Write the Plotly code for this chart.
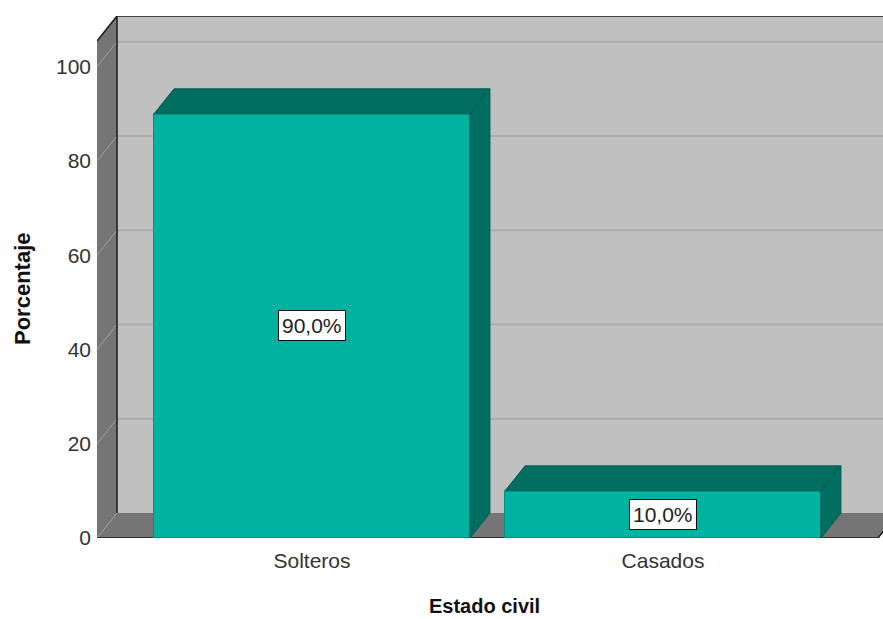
import plotly.graph_objects as go

# Data
categories = ["Solteros", "Casados"]
percentages = [90.0, 10.0]
y_ticks = [0, 20, 40, 60, 80, 100]

# Figure geometry (pixels)
W, H = 883, 619
M_L, M_R, M_T, M_B = 97, 0, 16, 81
PLOT_W = W - M_L - M_R
PLOT_H = H - M_T - M_B

# Axis ranges
X_FRONT = (-0.6125, 1.6125)       # front edge of the floor
PX_PER_X = 351.0
X_RANGE = [X_FRONT[0], X_FRONT[0] + PLOT_W / PX_PER_X]
PX_PER_Y = 4.713
DEPTH_PX = (20, 25)
DX = DEPTH_PX[0] / PX_PER_X
DY = DEPTH_PX[1] / PX_PER_Y
Y_TOP_FRONT = 105.46
Y_RANGE = [0, PLOT_H / PX_PER_Y]

BAR_W = 0.9
FACE = "#00B3A0"
SHADE = "#006F61"
EDGE = "#00594E"
WALL_BACK = "#C0C0C0"
WALL_SIDE = "#757575"

FONT = "Liberation Sans, Arial, sans-serif"

shapes = []
xl, xr = X_FRONT
# back wall
shapes.append(dict(type="rect", xref="x", yref="y", layer="below",
                   x0=xl + DX, x1=xr + DX + 0.2, y0=DY, y1=Y_TOP_FRONT + DY,
                   fillcolor=WALL_BACK, line=dict(width=0)))
# left wall
shapes.append(dict(type="path", xref="x", yref="y", layer="below",
                   path=f"M {xl},0 L {xl},{Y_TOP_FRONT} L {xl + DX},{Y_TOP_FRONT + DY} L {xl + DX},{DY} Z",
                   fillcolor=WALL_SIDE, line=dict(width=0)))
# floor
shapes.append(dict(type="path", xref="x", yref="y", layer="below",
                   path=f"M {xl},0 L {xr},0 L {xr + DX},{DY} L {xl + DX},{DY} Z",
                   fillcolor=WALL_SIDE, line=dict(width=0)))
# gridlines on the back wall and the left wall
for t in y_ticks:
    if t > 0:
        shapes.append(dict(type="line", xref="x", yref="y", layer="below",
                           x0=xl + DX, x1=xr + DX + 0.2, y0=t + DY, y1=t + DY,
                           line=dict(color="#ABABAB", width=2)))
    shapes.append(dict(type="line", xref="x", yref="y", layer="below",
                       x0=xl, x1=xl + DX, y0=t, y1=t + DY,
                       line=dict(color="#A0A0A0", width=1)))
# frame edges
edge = dict(color="#1A1A1A", width=1.5)
shapes += [
    dict(type="line", xref="x", yref="y", layer="below",
         x0=xl + DX, x1=xl + DX, y0=DY, y1=Y_TOP_FRONT + DY, line=edge),
    dict(type="line", xref="x", yref="y", layer="below",
         x0=xl + DX, x1=xr + DX + 0.2, y0=Y_TOP_FRONT + DY, y1=Y_TOP_FRONT + DY, line=edge),
    dict(type="line", xref="x", yref="y", layer="below",
         x0=xl, x1=xl + DX, y0=Y_TOP_FRONT, y1=Y_TOP_FRONT + DY, line=edge),
    dict(type="line", xref="x", yref="y", layer="below",
         x0=xl, x1=xr, y0=0, y1=0, line=edge),
    dict(type="line", xref="x", yref="y", layer="below",
         x0=xr, x1=xr + DX, y0=0, y1=DY, line=edge),
]

fig = go.Figure()

xs = list(range(len(categories)))
fig.add_trace(go.Bar(x=xs, y=percentages, width=BAR_W,
                     marker=dict(color=FACE, line=dict(color="#00917F", width=1)),
                     hoverinfo="skip", showlegend=False))

# top and side faces of each bar
for xi, v in zip(xs, percentages):
    a, b = xi - BAR_W / 2, xi + BAR_W / 2
    fig.add_trace(go.Scatter(
        x=[a, b, b + DX, a + DX, a], y=[v, v, v + DY, v + DY, v],
        fill="toself", fillcolor=SHADE, mode="lines",
        line=dict(color=EDGE, width=1), hoverinfo="skip", showlegend=False))
    fig.add_trace(go.Scatter(
        x=[b, b, b + DX, b + DX, b], y=[0, v, v + DY, DY, 0],
        fill="toself", fillcolor=SHADE, mode="lines",
        line=dict(color=EDGE, width=1), hoverinfo="skip", showlegend=False))

annotations = []
for xi, v in zip(xs, percentages):
    annotations.append(dict(
        x=xi, y=v / 2, xref="x", yref="y", showarrow=False,
        text=f"{v:.1f}".replace(".", ",") + "%",
        font=dict(family=FONT, size=21, color="#222222"),
        bgcolor="white", bordercolor="#111111", borderwidth=1, borderpad=3))

annotations.append(dict(
    text="<b>Porcentaje</b>", textangle=-90, showarrow=False,
    xref="paper", yref="paper", x=(22 - M_L) / PLOT_W, y=(M_T + PLOT_H - 289) / PLOT_H,
    xanchor="center", yanchor="middle",
    font=dict(family=FONT, size=22, color="#111111")))
annotations.append(dict(
    text="<b>Estado civil</b>", showarrow=False,
    xref="paper", yref="paper", x=(484.5 - M_L) / PLOT_W, y=(M_T + PLOT_H - 606) / PLOT_H,
    xanchor="center", yanchor="middle",
    font=dict(family=FONT, size=20, color="#111111")))

fig.update_layout(
    width=W, height=H,
    margin=dict(l=M_L, r=M_R, t=M_T, b=M_B, pad=0),
    paper_bgcolor="white", plot_bgcolor="white",
    shapes=shapes, annotations=annotations,
    bargap=0, showlegend=False,
    xaxis=dict(range=X_RANGE, tickvals=xs, ticktext=categories,
               showgrid=False, zeroline=False, showline=False, ticks="",
               ticklabelstandoff=8,
               tickfont=dict(family=FONT, size=21, color="#333333")),
    yaxis=dict(range=Y_RANGE, tickvals=y_ticks,
               showgrid=False, zeroline=False, showline=False, ticks="",
               ticklabelstandoff=5,
               tickfont=dict(family=FONT, size=21, color="#333333")),
)

fig.write_html("out.html")
